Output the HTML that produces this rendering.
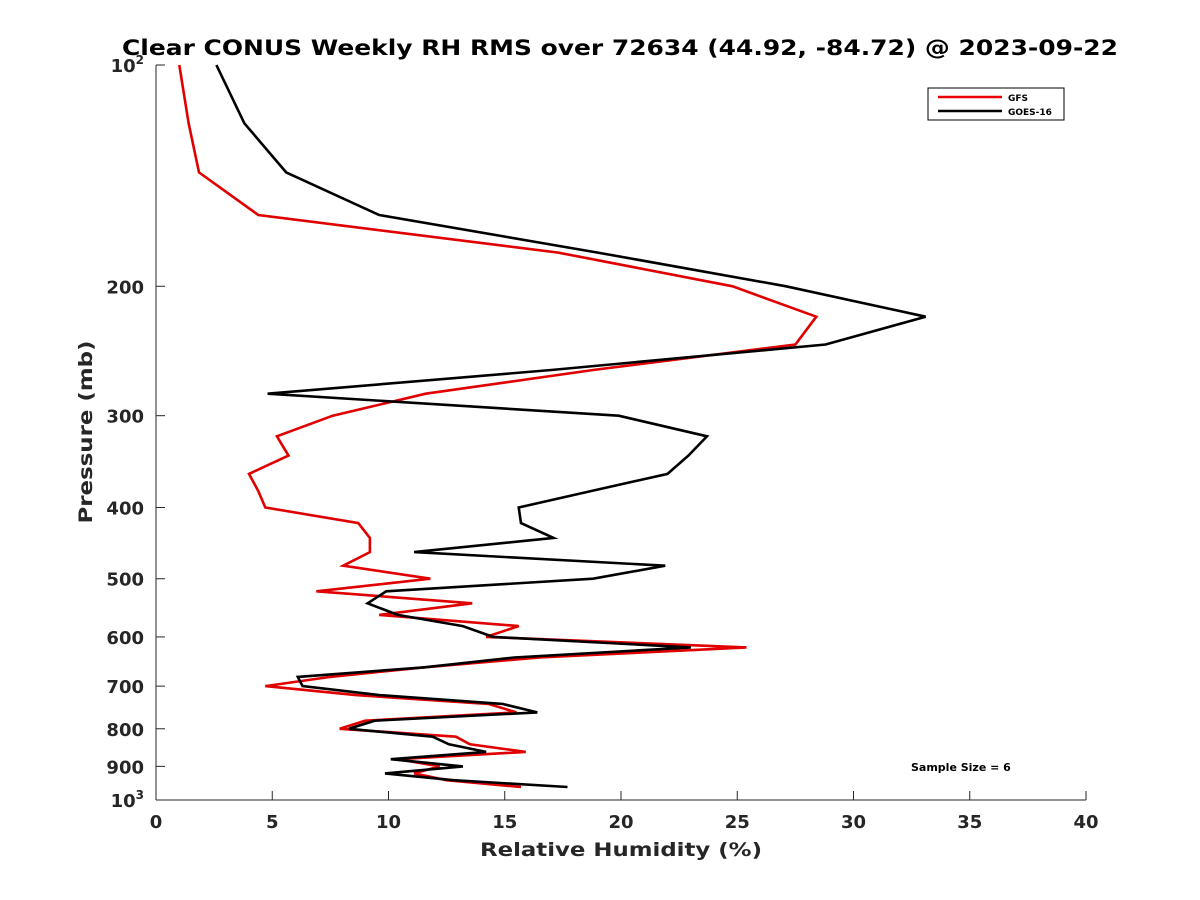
<!DOCTYPE html>
<html><head><meta charset="utf-8"><style>
body{margin:0;background:#fff;}
svg{display:block;font-family:"DejaVu Sans","Liberation Sans",sans-serif;font-weight:bold;}
</style></head><body>
<svg id="chart" width="1200" height="900" viewBox="0 0 1200 900">
<rect width="1200" height="900" fill="#fff"/>
<text x="620" y="55" font-size="21" text-anchor="middle" fill="#000" textLength="996" lengthAdjust="spacingAndGlyphs">Clear CONUS Weekly RH RMS over 72634 (44.92, -84.72) @ 2023-09-22</text>
<g id="axes"></g>
<g id="series"></g>
<text x="621" y="856" font-size="19" text-anchor="middle" fill="#262626" textLength="282" lengthAdjust="spacingAndGlyphs">Relative Humidity (%)</text>
<text transform="translate(92,432) rotate(-90)" font-size="19" text-anchor="middle" fill="#262626" textLength="183" lengthAdjust="spacingAndGlyphs">Pressure (mb)</text>
<text x="911" y="771" font-size="11" fill="#000">Sample Size = 6</text>
<g>
<rect x="928" y="88" width="136" height="32" fill="#fff" stroke="#000" stroke-width="1"/>
<line x1="938" y1="97" x2="1002" y2="97" stroke="#e00" stroke-width="2.5"/>
<text x="1008" y="101" font-size="9">GFS</text>
<line x1="938" y1="111" x2="1002" y2="111" stroke="#000" stroke-width="2.5"/>
<text x="1008" y="115" font-size="9">GOES-16</text>
</g>
</svg>
<script>
const levels = [100,120,140,160,180,200,220,240,260,280,300,320,340,360,380,400,420,440,460,480,500,520,540,560,580,600,620,640,660,680,700,720,740,760,780,800,820,840,860,880,900,920,940,960];
const gfsValues = [1.0,1.4,1.85,4.4,17.3,24.8,28.4,27.5,18.8,11.6,7.6,5.2,5.7,4.0,4.4,4.7,8.7,9.2,9.2,8.05,11.8,6.9,13.6,9.6,15.6,14.2,25.4,16.5,11.5,7.5,4.7,8.6,14.3,15.5,9.0,7.9,12.9,13.5,15.9,10.4,12.2,11.1,12.5,15.7];
const goesValues = [2.6,3.8,5.6,9.6,19.0,27.1,33.1,28.8,17.0,4.8,19.9,23.7,22.9,22.0,18.7,15.6,15.7,17.1,11.1,21.9,18.8,9.9,9.1,10.4,13.2,14.5,23.0,15.4,11.5,6.1,6.3,9.6,14.9,16.4,9.4,8.3,11.9,12.6,14.2,10.1,13.2,9.85,12.8,17.7];
const xTicks = [0,5,10,15,20,25,30,35,40];
const yTicks = [100,200,300,400,500,600,700,800,900,1000];
const yTickLabels = ["10^2","200","300","400","500","600","700","800","900","10^3"];

const X0=156,X1=1086,Y0=65,Y1=800;
function xs(v){return X0+(v/40)*(X1-X0);}
function ys(p){return Y0+(Math.log10(p)-2)*(Y1-Y0);}
const NS="http://www.w3.org/2000/svg";
const axes=document.getElementById('axes');
function mk(tag,attrs,parent){const e=document.createElementNS(NS,tag);for(const k in attrs)e.setAttribute(k,attrs[k]);parent.appendChild(e);return e;}

const xl=mk('line',{x1:X0,y1:Y1,x2:X1,y2:Y1,stroke:'#262626','stroke-width':1},axes);


const yl=mk('line',{x1:X0,y1:Y0,x2:X0,y2:Y1,stroke:'#262626','stroke-width':1},axes);



xTicks.forEach(v=>{
  const t=mk('line',{x1:xs(v),y1:Y1,x2:xs(v),y2:Y1-9,stroke:'#262626','stroke-width':1},axes);
  
  
  const l=mk('text',{x:xs(v),y:Y1+28,'font-size':18,'text-anchor':'middle',fill:'#262626'},axes);
  l.textContent=v;
  
  
});
yTicks.forEach((p,i)=>{
  const t=mk('line',{x1:X0,y1:ys(p),x2:X0+9,y2:ys(p),stroke:'#262626','stroke-width':1},axes);
  
  
  const lab=yTickLabels[i];
  const l=mk('text',{x:X0-12,y:ys(p)+7,'font-size':18,'text-anchor':'end',fill:'#262626'},axes);
  if(lab.indexOf('^')>=0){
    const parts=lab.split('^');
    const a=mk('tspan',{},l);a.textContent=parts[0];
    const b=mk('tspan',{dy:-8,'font-size':12},l);b.textContent=parts[1];
  } else l.textContent=lab;
  
  
});

const series=document.getElementById('series');
function drawLine(vals,color,name){
  const pts=vals.map((v,i)=>xs(v).toFixed(1)+','+ys(levels[i]).toFixed(1)).join(' ');
  const pl=mk('polyline',{points:pts,fill:'none',stroke:color,'stroke-width':2.6,'stroke-linejoin':'miter'},series);
  
  
}
drawLine(gfsValues,'#e00000','gfs-line');
drawLine(goesValues,'#000000','goes16-line');
</script>
</body></html>
